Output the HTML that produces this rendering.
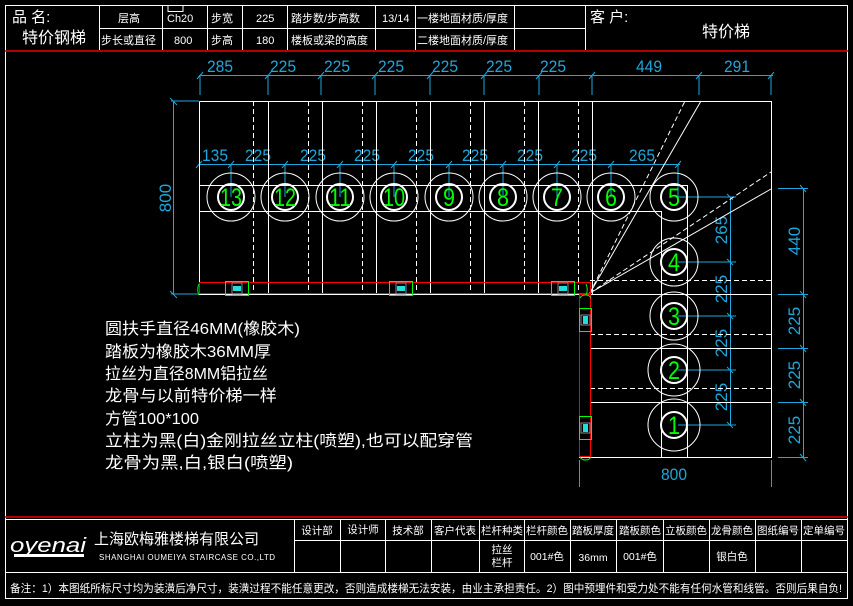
<!DOCTYPE html>
<html><head><meta charset="utf-8"><style>
html,body{margin:0;padding:0;background:#000;}
svg{display:block;}
text{font-family:"Liberation Sans","Noto Sans CJK SC",sans-serif;}
</style></head><body>
<svg width="853" height="606" viewBox="0 0 853 606" xmlns="http://www.w3.org/2000/svg">
<rect width="853" height="606" fill="#000"/>
<rect x="5.5" y="5.5" width="842" height="593" fill="none" stroke="#fff" stroke-width="1"/>
<g stroke="#fff" stroke-width="1" fill="none">
<line x1="99.5" y1="5" x2="99.5" y2="50"/>
<line x1="162.5" y1="5" x2="162.5" y2="50"/>
<line x1="207.5" y1="5" x2="207.5" y2="50"/>
<line x1="242.5" y1="5" x2="242.5" y2="50"/>
<line x1="287.5" y1="5" x2="287.5" y2="50"/>
<line x1="375.5" y1="5" x2="375.5" y2="50"/>
<line x1="415.5" y1="5" x2="415.5" y2="50"/>
<line x1="514.5" y1="5" x2="514.5" y2="50"/>
<line x1="585.5" y1="5" x2="585.5" y2="50"/>
<line x1="99" y1="28.5" x2="585" y2="28.5"/>
<rect x="168" y="5.5" width="15" height="6"/>
</g>
<line x1="5" y1="51" x2="848" y2="51" stroke="#e00" stroke-width="1.5"/>
<g fill="#fff" font-size="11">
<text x="12" y="22" font-size="15">品  名:</text>
<text x="22" y="43" font-size="16">特价钢梯</text>
<text x="118" y="22">层高</text>
<text x="167" y="22">Ch20</text>
<text x="211" y="22">步宽</text>
<text x="256" y="22">225</text>
<text x="291" y="22">踏步数/步高数</text>
<text x="382" y="22">13/14</text>
<text x="417" y="22">一楼地面材质/厚度</text>
<text x="101" y="44">步长或直径</text>
<text x="174" y="44">800</text>
<text x="211" y="44">步高</text>
<text x="256" y="44">180</text>
<text x="291" y="44">楼板或梁的高度</text>
<text x="417" y="44">二楼地面材质/厚度</text>
<text x="590" y="22" font-size="15">客  户:</text>
<text x="702" y="37" font-size="16">特价梯</text>
</g>

<g stroke="#1ea7dc" stroke-width="1" fill="none">
<line x1="199" y1="75.5" x2="773" y2="75.5"/>
<line x1="200" y1="75" x2="200" y2="95"/><line x1="268" y1="75" x2="268" y2="95"/><line x1="321" y1="75" x2="321" y2="95"/><line x1="375" y1="75" x2="375" y2="95"/><line x1="430" y1="75" x2="430" y2="95"/><line x1="484" y1="75" x2="484" y2="95"/><line x1="539" y1="75" x2="539" y2="95"/><line x1="592" y1="75" x2="592" y2="95"/><line x1="699" y1="75" x2="699" y2="95"/><line x1="771" y1="75" x2="771" y2="95"/>
<path d="M197 79l6-7M265 79l6-7M318 79l6-7M372 79l6-7M427 79l6-7M481 79l6-7M536 79l6-7M589 79l6-7M696 79l6-7M768 79l6-7"/>
<line x1="173.5" y1="101" x2="173.5" y2="294"/>
<line x1="171" y1="101" x2="199" y2="101"/>
<line x1="171" y1="294" x2="199" y2="294"/>
<path d="M170 98l7 7M170 291l7 7"/>
<line x1="199" y1="164.5" x2="680" y2="164.5"/>
<path d="M196 168l6-7M228 168l6-7M282 168l6-7M337 168l6-7M391 168l6-7M446 168l6-7M500 168l6-7M554 168l6-7M608 168l6-7M675 168l6-7"/>
<line x1="231" y1="164" x2="231" y2="197"/><line x1="285" y1="164" x2="285" y2="197"/><line x1="340" y1="164" x2="340" y2="197"/><line x1="394" y1="164" x2="394" y2="197"/><line x1="449" y1="164" x2="449" y2="197"/><line x1="503" y1="164" x2="503" y2="197"/><line x1="557" y1="164" x2="557" y2="197"/><line x1="611" y1="164" x2="611" y2="197"/><line x1="678" y1="164" x2="678" y2="197"/>
<line x1="730.5" y1="197" x2="730.5" y2="425"/>
<line x1="678" y1="197" x2="736" y2="197"/><line x1="678" y1="262" x2="736" y2="262"/><line x1="678" y1="316" x2="736" y2="316"/><line x1="678" y1="370" x2="736" y2="370"/><line x1="678" y1="425" x2="736" y2="425"/>
<path d="M727 194l6 6M727 259l6 6M727 313l6 6M727 367l6 6M727 422l6 6"/>
<line x1="803.5" y1="188" x2="803.5" y2="457"/>
<line x1="778" y1="188.5" x2="808" y2="188.5"/><line x1="778" y1="294.5" x2="808" y2="294.5"/><line x1="778" y1="348.5" x2="808" y2="348.5"/><line x1="778" y1="402.5" x2="808" y2="402.5"/><line x1="778" y1="457.5" x2="808" y2="457.5"/>
<path d="M800 185l6 7M800 291l6 7M800 345l6 7M800 399l6 7M800 454l6 7"/>
<line x1="579.5" y1="460" x2="579.5" y2="487"/><line x1="771.5" y1="460" x2="771.5" y2="487"/>
</g>
<g fill="#1ea7dc" font-size="17" lengthAdjust="spacingAndGlyphs">
<text x="220" y="72" text-anchor="middle" textLength="26" lengthAdjust="spacingAndGlyphs">285</text><text x="283" y="72" text-anchor="middle" textLength="26" lengthAdjust="spacingAndGlyphs">225</text><text x="337" y="72" text-anchor="middle" textLength="26" lengthAdjust="spacingAndGlyphs">225</text><text x="391" y="72" text-anchor="middle" textLength="26" lengthAdjust="spacingAndGlyphs">225</text><text x="445" y="72" text-anchor="middle" textLength="26" lengthAdjust="spacingAndGlyphs">225</text><text x="499" y="72" text-anchor="middle" textLength="26" lengthAdjust="spacingAndGlyphs">225</text><text x="553" y="72" text-anchor="middle" textLength="26" lengthAdjust="spacingAndGlyphs">225</text><text x="649" y="72" text-anchor="middle" textLength="26" lengthAdjust="spacingAndGlyphs">449</text><text x="737" y="72" text-anchor="middle" textLength="26" lengthAdjust="spacingAndGlyphs">291</text>
<text x="215" y="161" text-anchor="middle" textLength="26" lengthAdjust="spacingAndGlyphs">135</text><text x="258" y="161" text-anchor="middle" textLength="26" lengthAdjust="spacingAndGlyphs">225</text><text x="313" y="161" text-anchor="middle" textLength="26" lengthAdjust="spacingAndGlyphs">225</text><text x="367" y="161" text-anchor="middle" textLength="26" lengthAdjust="spacingAndGlyphs">225</text><text x="421" y="161" text-anchor="middle" textLength="26" lengthAdjust="spacingAndGlyphs">225</text><text x="475" y="161" text-anchor="middle" textLength="26" lengthAdjust="spacingAndGlyphs">225</text><text x="530" y="161" text-anchor="middle" textLength="26" lengthAdjust="spacingAndGlyphs">225</text><text x="584" y="161" text-anchor="middle" textLength="26" lengthAdjust="spacingAndGlyphs">225</text><text x="642" y="161" text-anchor="middle" textLength="26" lengthAdjust="spacingAndGlyphs">265</text>
<text x="674" y="480" text-anchor="middle" textLength="26" lengthAdjust="spacingAndGlyphs">800</text>
<text transform="translate(171,198) rotate(-90)" text-anchor="middle">800</text>
<text transform="translate(800,241) rotate(-90)" text-anchor="middle">440</text>
<text transform="translate(800,321) rotate(-90)" text-anchor="middle">225</text>
<text transform="translate(800,375) rotate(-90)" text-anchor="middle">225</text>
<text transform="translate(800,430) rotate(-90)" text-anchor="middle">225</text>
<text transform="translate(727,230) rotate(-90)" text-anchor="middle">265</text>
<text transform="translate(727,289) rotate(-90)" text-anchor="middle">225</text>
<text transform="translate(727,343) rotate(-90)" text-anchor="middle">225</text>
<text transform="translate(727,397) rotate(-90)" text-anchor="middle">225</text>
</g>

<g stroke="#fff" stroke-width="1" fill="none">
<polyline points="199.5,101.5 771.5,101.5 771.5,457.5 579.5,457.5 579.5,294.5 199.5,294.5 199.5,101.5"/>
<line x1="268.5" y1="101" x2="268.5" y2="294"/><line x1="322.5" y1="101" x2="322.5" y2="294"/><line x1="376.5" y1="101" x2="376.5" y2="294"/><line x1="430.5" y1="101" x2="430.5" y2="294"/><line x1="484.5" y1="101" x2="484.5" y2="294"/><line x1="538.5" y1="101" x2="538.5" y2="294"/><line x1="592.5" y1="101" x2="592.5" y2="294"/>
<g stroke-dasharray="5,3">
<line x1="253.5" y1="101" x2="253.5" y2="294"/><line x1="308.5" y1="101" x2="308.5" y2="294"/><line x1="362.5" y1="101" x2="362.5" y2="294"/><line x1="416.5" y1="101" x2="416.5" y2="294"/><line x1="470.5" y1="101" x2="470.5" y2="294"/><line x1="524.5" y1="101" x2="524.5" y2="294"/><line x1="578.5" y1="101" x2="578.5" y2="294"/>
<line x1="590" y1="280.5" x2="771" y2="280.5"/><line x1="590" y1="334.5" x2="771" y2="334.5"/><line x1="590" y1="388.5" x2="771" y2="388.5"/>
<line x1="590" y1="293" x2="685" y2="101"/><line x1="590" y1="293" x2="771" y2="172"/>
</g>
<line x1="590" y1="293" x2="701" y2="101"/><line x1="590" y1="293" x2="771" y2="189"/>
<line x1="199" y1="185.5" x2="687" y2="185.5"/><line x1="199" y1="211.5" x2="661" y2="211.5"/>
<line x1="661.5" y1="211" x2="661.5" y2="457"/><line x1="687.5" y1="185" x2="687.5" y2="457"/>
<line x1="590" y1="294.5" x2="771" y2="294.5"/><line x1="590" y1="348.5" x2="771" y2="348.5"/><line x1="590" y1="402.5" x2="771" y2="402.5"/>
<circle cx="231" cy="197" r="24"/><circle cx="285" cy="197" r="24"/><circle cx="340" cy="197" r="24"/><circle cx="394" cy="197" r="24"/><circle cx="449" cy="197" r="24"/><circle cx="503" cy="197" r="24"/><circle cx="557" cy="197" r="24"/><circle cx="611" cy="197" r="24"/><circle cx="674" cy="197" r="24"/>
<circle cx="674" cy="262" r="24"/><circle cx="674" cy="316" r="24"/><circle cx="674" cy="370" r="26"/><circle cx="674" cy="425" r="26"/>
<g stroke-width="2">
<ellipse cx="231" cy="197" rx="13" ry="13"/><ellipse cx="285" cy="197" rx="13" ry="13"/><ellipse cx="340" cy="197" rx="13" ry="13"/><ellipse cx="394" cy="197" rx="13" ry="13"/><ellipse cx="449" cy="197" rx="13" ry="13"/><ellipse cx="503" cy="197" rx="13" ry="13"/><ellipse cx="557" cy="197" rx="13" ry="13"/><ellipse cx="611" cy="197" rx="13" ry="13"/><ellipse cx="674" cy="197" rx="13" ry="13"/>
<ellipse cx="674" cy="262" rx="13" ry="13"/><ellipse cx="674" cy="316" rx="13" ry="13"/><ellipse cx="674" cy="370" rx="13" ry="13"/><ellipse cx="674" cy="425" rx="13" ry="13"/>
</g>
</g>
<g fill="#0f0" font-size="25" text-anchor="middle">
<text x="231" y="206" textLength="22" lengthAdjust="spacingAndGlyphs">13</text><text x="285" y="206" textLength="22" lengthAdjust="spacingAndGlyphs">12</text><text x="340" y="206" textLength="22" lengthAdjust="spacingAndGlyphs">11</text><text x="394" y="206" textLength="22" lengthAdjust="spacingAndGlyphs">10</text><text x="449" y="206" textLength="12" lengthAdjust="spacingAndGlyphs">9</text><text x="503" y="206" textLength="12" lengthAdjust="spacingAndGlyphs">8</text><text x="557" y="206" textLength="12" lengthAdjust="spacingAndGlyphs">7</text><text x="611" y="206" textLength="12" lengthAdjust="spacingAndGlyphs">6</text><text x="674" y="206" textLength="12" lengthAdjust="spacingAndGlyphs">5</text>
<text x="674" y="271" textLength="12" lengthAdjust="spacingAndGlyphs">4</text><text x="674" y="325" textLength="12" lengthAdjust="spacingAndGlyphs">3</text><text x="674" y="379" textLength="12" lengthAdjust="spacingAndGlyphs">2</text><text x="674" y="434" textLength="12" lengthAdjust="spacingAndGlyphs">1</text>
</g>
<g fill="none">
<rect x="199.5" y="282.5" width="391" height="11" stroke="#f00"/>
<rect x="579.5" y="294.5" width="11" height="162" stroke="#f00"/>
<path d="M199 284 a6 9 0 0 0 0 11" stroke="#0f0"/>
<path d="M586 284 a6 9 0 0 1 0 11" stroke="#0f0"/>
<path d="M580 298 a6 5 0 0 1 11 0" stroke="#0f0"/>
<path d="M580 457 a6 5 0 0 0 11 0" stroke="#0f0"/>
<g stroke="#0f0">
<rect x="225.5" y="281.5" width="23" height="14"/><rect x="389.5" y="281.5" width="23" height="14"/><rect x="551.5" y="281.5" width="23" height="14"/>
<rect x="579.5" y="308.5" width="12" height="23"/><rect x="579.5" y="416.5" width="12" height="23"/>
</g>
<g stroke="#888"><rect x="232" y="283" width="10" height="11"/><rect x="396" y="283" width="10" height="11"/><rect x="558" y="283" width="10" height="11"/><rect x="581" y="315" width="9" height="10"/><rect x="581" y="423" width="9" height="10"/></g>
</g>
<g fill="#2dd"><rect x="233" y="286" width="8" height="5"/><rect x="397" y="286" width="8" height="5"/><rect x="559" y="286" width="8" height="5"/><rect x="583" y="316" width="5" height="8"/><rect x="583" y="424" width="5" height="8"/></g>

<g fill="#fff" font-size="16">
<text x="105" y="334" textLength="195" lengthAdjust="spacingAndGlyphs">圆扶手直径46MM(橡胶木)</text>
<text x="105" y="357" textLength="166" lengthAdjust="spacingAndGlyphs">踏板为橡胶木36MM厚</text>
<text x="105" y="379" textLength="163" lengthAdjust="spacingAndGlyphs">拉丝为直径8MM铝拉丝</text>
<text x="105" y="401" textLength="172" lengthAdjust="spacingAndGlyphs">龙骨与以前特价梯一样</text>
<text x="105" y="424" textLength="94" lengthAdjust="spacingAndGlyphs">方管100*100</text>
<text x="105" y="446" textLength="368" lengthAdjust="spacingAndGlyphs">立柱为黑(白)金刚拉丝立柱(喷塑),也可以配穿管</text>
<text x="105" y="468" textLength="188" lengthAdjust="spacingAndGlyphs">龙骨为黑,白,银白(喷塑)</text>
</g>

<line x1="5" y1="517" x2="848" y2="517" stroke="#e00" stroke-width="1.5"/>
<g stroke="#fff" stroke-width="1" fill="none">
<line x1="5" y1="519.5" x2="848" y2="519.5"/>
<line x1="294" y1="540.5" x2="848" y2="540.5"/>
<line x1="5" y1="572.5" x2="848" y2="572.5"/>
<line x1="294.5" y1="519" x2="294.5" y2="572"/><line x1="340.5" y1="519" x2="340.5" y2="572"/><line x1="385.5" y1="519" x2="385.5" y2="572"/><line x1="431.5" y1="519" x2="431.5" y2="572"/><line x1="479.5" y1="519" x2="479.5" y2="572"/><line x1="524.5" y1="519" x2="524.5" y2="572"/><line x1="570.5" y1="519" x2="570.5" y2="572"/><line x1="616.5" y1="519" x2="616.5" y2="572"/><line x1="663.5" y1="519" x2="663.5" y2="572"/><line x1="709.5" y1="519" x2="709.5" y2="572"/><line x1="755.5" y1="519" x2="755.5" y2="572"/><line x1="801.5" y1="519" x2="801.5" y2="572"/>
</g>
<g fill="#fff" font-size="10.5" text-anchor="middle">
<text x="317" y="534">设计部</text><text x="363" y="533">设计师</text><text x="408" y="534">技术部</text><text x="455" y="534">客户代表</text><text x="502" y="534">栏杆种类</text><text x="547" y="534">栏杆颜色</text><text x="593" y="534">踏板厚度</text><text x="640" y="534">踏板颜色</text><text x="686" y="534">立板颜色</text><text x="732" y="534">龙骨颜色</text><text x="778" y="534">图纸编号</text><text x="824" y="534">定单编号</text>
<text x="502" y="553">拉丝</text><text x="502" y="566">栏杆</text>
<text x="547" y="560">001#色</text><text x="593" y="561">36mm</text><text x="640" y="560">001#色</text><text x="732" y="560">银白色</text>
</g>
<g fill="#fff">
<text x="10" y="552" font-size="20" font-style="italic" font-family="Liberation Serif,serif" textLength="76" lengthAdjust="spacingAndGlyphs">oyenai</text>
<rect x="14" y="554" width="70" height="3"/>
<text x="94" y="544" font-size="15">上海欧梅雅楼梯有限公司</text>
<text x="99" y="560" font-size="8" textLength="176" lengthAdjust="spacing">SHANGHAI OUMEIYA STAIRCASE CO.,LTD</text>
<text x="10" y="592" font-size="11" textLength="832" lengthAdjust="spacingAndGlyphs">备注：1）本图纸所标尺寸均为装潢后净尺寸，装潢过程不能任意更改，否则造成楼梯无法安装，由业主承担责任。2）图中预埋件和受力处不能有任何水管和线管。否则后果自负!</text>
</g>
</svg>
</body></html>
